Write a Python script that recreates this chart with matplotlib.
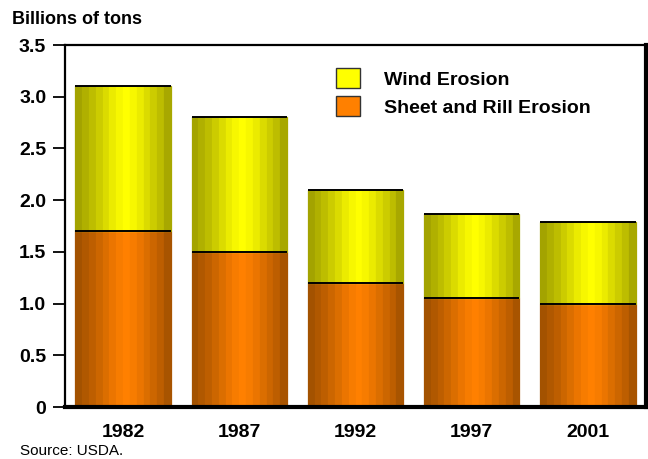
import matplotlib

matplotlib.use("Agg")
import matplotlib.pyplot as plt
import numpy as np
from matplotlib.patches import Patch

plt.rcParams["font.family"] = ["Liberation Sans", "DejaVu Sans"]

# ---- data: soil erosion on cropland, billions of tons ----------------------
YEARS = ["1982", "1987", "1992", "1997", "2001"]
SHEET_RILL = [1.70, 1.50, 1.20, 1.05, 1.00]
WIND = [1.40, 1.30, 0.90, 0.82, 0.79]
Y_TICKS = [0, 0.5, 1.0, 1.5, 2.0, 2.5, 3.0, 3.5]
Y_LABELS = ["0", "0.5", "1.0", "1.5", "2.0", "2.5", "3.0", "3.5"]

YELLOW = np.array([1.0, 1.0, 0.0])
ORANGE = np.array([1.0, 0.5, 0.0])
BAR_W = 0.82
# brightness across each bar, edge -> centre -> edge (cylinder look)
SHADE = [0.64, 0.69, 0.74, 0.80, 0.86, 0.92, 0.97, 1.0, 0.97, 0.92, 0.86, 0.80, 0.74, 0.66]


def shaded_bars(ax, x, heights, bottoms, base):
    n = len(SHADE)
    sw = BAR_W / n
    for k, s in enumerate(SHADE):
        off = -BAR_W / 2 + sw * (k + 0.5)
        c = tuple(base * s)
        ax.bar(x + off, heights, sw, bottom=bottoms, color=c,
               edgecolor=c, linewidth=0.9, zorder=2)
    tops = np.asarray(bottoms) + np.asarray(heights)
    ax.hlines(tops, x - BAR_W / 2, x + BAR_W / 2, color="black", lw=1.4, zorder=3)


fig = plt.figure(figsize=(6.48, 4.59), dpi=100)
ax = fig.add_axes([65 / 648, 52 / 459, 581 / 648, 362 / 459])

x = np.arange(len(YEARS))
sheet = np.array(SHEET_RILL)
wind = np.array(WIND)
shaded_bars(ax, x, sheet, np.zeros_like(sheet), ORANGE)
shaded_bars(ax, x, wind, sheet, YELLOW)

ax.set_xlim(-0.5, len(YEARS) - 0.5)
ax.set_ylim(0, 3.5)
ax.set_yticks(Y_TICKS)
ax.set_yticklabels(Y_LABELS, fontsize=14, fontweight="bold")
ax.set_xticks(x)
ax.set_xticklabels(YEARS, fontsize=14, fontweight="bold")
ax.tick_params(axis="y", direction="out", length=8.5, width=1.3, pad=5)
ax.tick_params(axis="x", length=0, pad=12)

for side, lw in (("left", 1.6), ("top", 1.6), ("right", 3.0), ("bottom", 3.0)):
    ax.spines[side].set_linewidth(lw)
    ax.spines[side].set_zorder(5)

handles = [
    Patch(facecolor=tuple(YELLOW), edgecolor="#333333", lw=1.0, label="Wind Erosion"),
    Patch(facecolor=tuple(ORANGE), edgecolor="#333333", lw=1.0, label="Sheet and Rill Erosion"),
]
leg = fig.legend(handles=handles, loc="upper left",
                 bbox_to_anchor=(336 / 648, 1 - 68 / 459),
                 frameon=False, borderpad=0, borderaxespad=0,
                 handlelength=1.24, handleheight=1.24, handletextpad=1.24,
                 labelspacing=0.36, prop={"size": 14, "weight": "bold"})

fig.text(12 / 648, 1 - 20 / 459, "Billions of tons", fontsize=13,
         fontweight="bold", va="center", ha="left")
fig.text(20 / 648, 1 - 451 / 459, "Source: USDA.", fontsize=11,
         va="center", ha="left")

fig.savefig("out.png", dpi=100, facecolor="white")
